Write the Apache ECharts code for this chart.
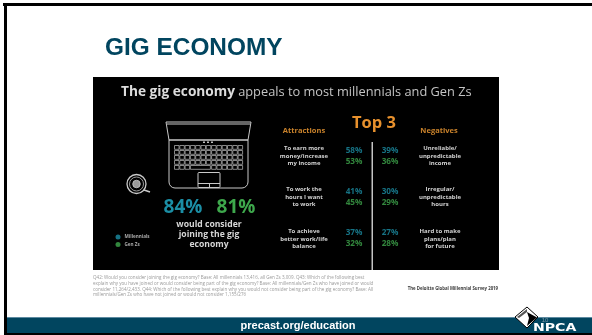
<!DOCTYPE html>
<html>
<head>
<meta charset="utf-8">
<style>html,body{margin:0;padding:0;background:#fff}#chart{width:592px;height:335px}</style>
<script src="https://cdn.jsdelivr.net/npm/echarts@6/dist/echarts.min.js"></script>
</head>
<body>
<div id="chart"></div>
<script>
// Survey figures
const sides = ['Attractions', 'Negatives'];
const rows = ['first', 'second', 'third'];
const millennialsAttractions = [58, 41, 37];
const genZAttractions = [53, 45, 32];
const millennialsNegatives = [39, 30, 27];
const genZNegatives = [36, 29, 28];
const considerShare = [84, 81];
const groups = ['Millennials', 'Gen Zs'];
const attractionLabels = [
  ['To earn more', 'money/increase', 'my income'],
  ['To work the', 'hours I want', 'to work'],
  ['To achieve', 'better work/life', 'balance']
];
const negativeLabels = [
  ['Unreliable/', 'unpredictable', 'income'],
  ['Irregular/', 'unpredictable', 'hours'],
  ['Hard to make', 'plans/plan', 'for future']
];
const footnoteLines = [
  'Q42: Would you consider joining the gig economy? Base: All millennials 13,416, all Gen Zs 3,009. Q43: Which of the following best',
  'explain why you have joined or would consider being part of the gig economy? Base: All millennials/Gen Zs who have joined or would',
  'consider 11,264/2,433. Q44: Which of the following best explain why you would not consider being part of the gig economy? Base: All',
  'millennials/Gen Zs who have not joined or would not consider 1,155/276'
];

const TEAL = '#1b8ea5', GREEN = '#3ea84c', ORANGE = '#e8912d', NAVY = '#01455f';
const SANS = '"Open Sans", sans-serif';
const LINE = '#c9c9c9';

const g = [];
const rect = (x, y, width, height, fill, z = 1) =>
  g.push({ type: 'rect', z, silent: true, shape: { x, y, width, height }, style: { fill } });
const outline = (x, y, width, height, r = 0, lineWidth = 1, stroke = LINE) =>
  g.push({ type: 'rect', z: 3, silent: true, shape: { x, y, width, height, r },
           style: { fill: 'transparent', stroke, lineWidth } });
const text = (x, y, t, size, fill, weight = 'normal', align = 'center', font = SANS) =>
  g.push({ type: 'text', z: 4, silent: true, x, y,
           style: { text: t, fontSize: size, fill, fontWeight: weight, fontFamily: font,
                    align, verticalAlign: 'middle' } });
const poly = (points, style, z = 3) =>
  g.push({ type: 'polygon', z, silent: true, shape: { points }, style });

// Slide frame and footer band
rect(3, 3, 589, 3, '#000');
rect(4, 3, 3, 332, '#000');
rect(7, 317, 585, 16, NAVY);
rect(7, 317, 585, 1, '#5d8aa0', 2);
rect(4, 333, 588, 2, '#000');
rect(93, 77, 406, 193, '#000');
text(105, 48.5, 'GIG ECONOMY', 24.4, NAVY, 'bold', 'left', '"Liberation Sans", Arial, sans-serif');
text(298, 326, 'precast.org/education', 11, '#fff', 'bold', 'center', '"Liberation Sans", Arial, sans-serif');

// Headline
g.push({ type: 'text', z: 4, silent: true, x: 121, y: 92,
  style: { text: '{b|The gig economy} {r|appeals to most millennials and Gen Zs}',
           verticalAlign: 'middle', align: 'left', fontFamily: SANS,
           rich: { b: { fontSize: 13.7, fontWeight: 'bold', fill: '#dcdcdc', fontFamily: SANS },
                   r: { fontSize: 12.8, fontWeight: 'normal', fill: '#c4c4c4', fontFamily: SANS } } } });

// Laptop outline seen from above
poly([[166, 122], [251, 122], [248, 140], [169, 140]], { fill: 'transparent', stroke: LINE, lineWidth: 1 });
rect(167, 123.5, 83, 1, LINE, 3);
outline(169, 140, 79, 48, [0, 0, 6, 6]);
[203, 207, 211].forEach(x => rect(x, 141.5, 2, 1.5, '#bdbdbd', 3));
const keyRows = [145.5, 150.5, 155.5, 160.5, 165.5];
keyRows.forEach((y, r) => {
  for (let i = 0; i < 13; i++) {
    const wide = (r === 4 && i === 3);
    if (r === 4 && i > 3 && i <= 6) continue;
    outline(174.5 + i * 5.3, y, wide ? 20 : 4.5, 3.8, 0, 0.8, '#a9a9a9');
  }
});
outline(198, 172.5, 22, 15, 1);
rect(198, 183, 22, 1, LINE, 3);
rect(209, 183, 1, 4, LINE, 3);

// Coffee cup icon
g.push({ type: 'circle', z: 3, silent: true, shape: { cx: 136.5, cy: 184, r: 9.5 },
         style: { fill: 'transparent', stroke: LINE, lineWidth: 1.3 } });
g.push({ type: 'circle', z: 3, silent: true, shape: { cx: 136.5, cy: 184, r: 7 },
         style: { fill: 'transparent', stroke: '#9a9a9a', lineWidth: 1 } });
g.push({ type: 'circle', z: 3, silent: true, shape: { cx: 136.5, cy: 184, r: 3.8 },
         style: { fill: '#9a9a9a', stroke: LINE, lineWidth: 0.8 } });
g.push({ type: 'line', z: 3, silent: true, shape: { x1: 144, y1: 190, x2: 150, y2: 192 },
         style: { stroke: LINE, lineWidth: 1.6 } });

// Headline shares and their caption
text(183, 208, considerShare[0] + '%', 19, TEAL, 'bold');
text(236, 208, considerShare[1] + '%', 19, GREEN, 'bold');
['would consider', 'joining the gig', 'economy'].forEach((t, i) =>
  text(209, 225 + i * 10, t, 8.6, '#d6d6d6', 'bold'));

// Top-3 header and divider
text(374, 123, 'Top 3', 16.5, ORANGE, 'bold');
text(304, 131, sides[0], 7.5, '#c9822b', 'bold');
text(439, 131, sides[1], 7.5, '#c9822b', 'bold');
rect(371.5, 142, 1.5, 128, '#c4c4c4', 3);

const rowTop = [148, 189, 231];
attractionLabels.forEach((lines, r) => lines.forEach((t, i) =>
  text(304, rowTop[r] + i * 7.8, t, 6, '#d2d2d2', 'bold')));
negativeLabels.forEach((lines, r) => lines.forEach((t, i) =>
  text(440, rowTop[r] + i * 7.8, t, 6, '#d2d2d2', 'bold')));

// Footnote, source line
footnoteLines.forEach((t, i) =>
  text(93, 278 + i * 5.7, t, 4.55, '#9a9a9a', 'normal', 'left'));
text(498, 289, 'The Deloitte Global Millennial Survey 2019', 4.3, '#3a3a3a', 'bold', 'right');

// NPCA mark
poly([[527, 307], [538, 317], [527, 328], [515, 317]], { fill: '#fff', stroke: '#000', lineWidth: 1 }, 5);
poly([[527, 312], [537, 317.5], [527, 326], [529, 318]], { fill: '#000' }, 6);
poly([[517, 317], [527, 309], [527, 312], [519, 318]], { fill: '#555' }, 6);
text(545, 320.5, '10', 6, '#7d97a6', 'normal', 'center', '"Liberation Sans", sans-serif');
g.push({ type: 'text', z: 7, silent: true, x: 533, y: 328, scaleX: 1.28,
  style: { text: 'NPCA', fontSize: 11, fontWeight: 'bold', fill: '#fff', align: 'left',
           verticalAlign: 'middle', fontFamily: '"DejaVu Sans", sans-serif' } });

// One percentage column per side, two stacked figures per row
const points = (a, b) => [...a.map((v, r) => [sides[0], rows[r], v]), ...b.map((v, r) => [sides[1], rows[r], v])];
const figureSeries = (name, color, data, dy) => ({
  type: 'scatter', name, data, symbolSize: 0, itemStyle: { color }, z: 5,
  encode: { x: 0, y: 1 },
  label: { show: true, position: 'inside', offset: [0, dy], color, fontFamily: SANS,
           fontSize: 8.2, fontWeight: 'bold', formatter: p => p.value[2] + '%' }
});

const chart = echarts.init(document.getElementById('chart'), null, { renderer: 'canvas' });
chart.setOption({
  animation: false,
  backgroundColor: '#fff',
  grid: { left: 336, top: 136, width: 72, height: 123 },
  xAxis: { type: 'category', data: sides, show: false },
  yAxis: { type: 'category', data: rows, inverse: true, show: false },
  legend: {
    orient: 'vertical', left: 115.5, top: 234.5, itemWidth: 5, itemHeight: 5, itemGap: 2.5,
    icon: 'circle', padding: 0, data: groups,
    textStyle: { color: '#a8a8a8', fontSize: 4.6, fontFamily: SANS, fontWeight: 'bold', padding: [0, 0, 0, -1] }
  },
  series: [
    figureSeries(groups[0], TEAL, points(millennialsAttractions, millennialsNegatives), -5.5),
    figureSeries(groups[1], GREEN, points(genZAttractions, genZNegatives), 5.5)
  ],
  graphic: { elements: g }
});
</script>
</body>
</html>
